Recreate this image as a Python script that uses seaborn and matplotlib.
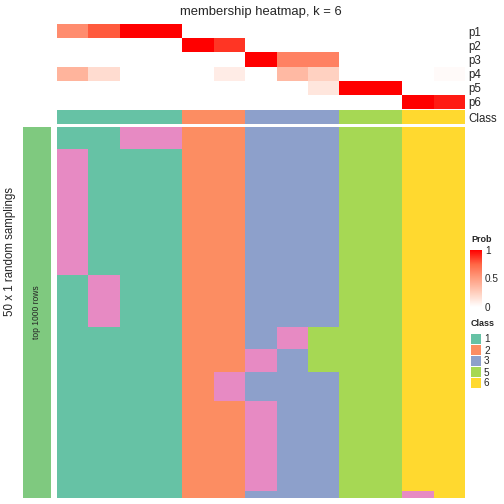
import numpy as np
import matplotlib
matplotlib.use("Agg")
import matplotlib.pyplot as plt
import seaborn as sns
from matplotlib.colors import ListedColormap, LinearSegmentedColormap

# ---- data ----
prob_rows = ["p1", "p2", "p3", "p4", "p5", "p6"]
p1 = [0.58, 0.78, 1.0, 1.0, 0, 0, 0, 0, 0, 0, 0, 0, 0]
p2 = [0, 0, 0, 0, 1.0, 0.87, 0, 0, 0, 0, 0, 0, 0]
p3 = [0, 0, 0, 0, 0, 0, 1.0, 0.63, 0.63, 0, 0, 0, 0]
p4 = [0.39, 0.18, 0, 0, 0, 0.1, 0, 0.36, 0.24, 0, 0, 0, 0.025]
p5 = [0, 0, 0, 0, 0, 0, 0, 0, 0.13, 1.0, 1.0, 0, 0]
p6 = [0, 0, 0, 0, 0, 0, 0, 0, 0, 0, 0, 1.0, 0.93]

class_per_sample = [1, 1, 1, 1, 2, 2, 3, 3, 3, 5, 5, 6, 6]
legend_classes = [1, 2, 3, 5, 6]

# 50 random samplings, one string per sampling (class of each sample)
samplings = (
    ["1144223335566"] * 3
    + ["4111223335566"] * 17
    + ["1411223335566"] * 7
    + ["1111223455566"] * 3
    + ["1111224355566"] * 3
    + ["1111243335566"] * 4
    + ["1111224335566"] * 12
    + ["1111223335546"] * 1
)

class_colors = ["#66C2A5", "#FC8D62", "#8DA0CB", "#E78AC3", "#A6D854", "#FFD92F"]

# ---- styling ----
sns.set_style("white")
plt.rcParams["font.family"] = ["Liberation Sans", "DejaVu Sans"]

W = H = 504.0


def box(x0, y0, x1, y1):
    # pixel box (top-left origin) -> figure fraction rect
    return [x0 / W, 1 - y1 / H, (x1 - x0) / W, (y1 - y0) / H]


class_cmap = ListedColormap(class_colors)
prob_cmap = LinearSegmentedColormap.from_list(
    "prob",
    [(0, "#FFFFFF"), (0.25, "#FFCFBE"), (0.5, "#FF9E81"), (0.75, "#FF6746"), (1, "#FF0000")],
)

fig = plt.figure(figsize=(7, 7), dpi=72)

# membership probabilities
ax_p = fig.add_axes(box(56.7, 24, 465, 109))
prob = np.array([p1, p2, p3, p4, p5, p6])
sns.heatmap(prob, ax=ax_p, cmap=prob_cmap, vmin=0, vmax=1, cbar=False,
            xticklabels=False, yticklabels=prob_rows)
ax_p.yaxis.tick_right()
ax_p.tick_params(axis="y", length=0, pad=3, labelsize=11.5, labelrotation=0)

# class annotation bar
ax_c = fig.add_axes(box(56.7, 110, 465, 124))
sns.heatmap(np.array([class_per_sample]), ax=ax_c, cmap=class_cmap, vmin=0.5, vmax=6.5,
            cbar=False, xticklabels=False, yticklabels=["Class"])
ax_c.yaxis.tick_right()
ax_c.tick_params(axis="y", length=0, pad=3, labelsize=11.5, labelrotation=0)

# main heatmap of samplings
ax_m = fig.add_axes(box(56.7, 126.7, 465, 498))
mat = np.array([[int(c) for c in row] for row in samplings])
sns.heatmap(mat, ax=ax_m, cmap=class_cmap, vmin=0.5, vmax=6.5, cbar=False,
            xticklabels=False, yticklabels=False)

# left row-group bar
ax_l = fig.add_axes(box(22.7, 126.7, 51, 498))
ax_l.set_facecolor("#7FC97F")
ax_l.set_xticks([])
ax_l.set_yticks([])
for s in ax_l.spines.values():
    s.set_visible(False)
ax_l.text(0.5, 0.5, "top 1000 rows", rotation=90, ha="center", va="center",
          fontsize=8.5, transform=ax_l.transAxes)

fig.text(10 / W, 1 - 252 / H, "50 x 1 random samplings", rotation=90,
         ha="center", va="center", fontsize=11.5)
fig.text(260.8 / W, 1 - 12 / H, "membership heatmap, k = 6",
         ha="center", va="center", fontsize=13)

# Prob colorbar
fig.text(471 / W, 1 - 240 / H, "Prob", ha="left", va="center", fontsize=9, fontweight="bold")
cax = fig.add_axes(box(470, 250, 482, 307))
sm = plt.cm.ScalarMappable(cmap=prob_cmap, norm=plt.Normalize(0, 1))
cb = fig.colorbar(sm, cax=cax, ticks=[0, 0.5, 1])
cb.outline.set_visible(False)
cb.ax.set_yticklabels(["0", "0.5", "1"])
cb.ax.tick_params(direction="in", length=2, color="white", labelsize=10, pad=3)

# Class legend
fig.text(471 / W, 1 - 324 / H, "Class", ha="left", va="center", fontsize=9, fontweight="bold")
ax_lg = fig.add_axes(box(470, 333, 481, 388))
sns.heatmap(np.array(legend_classes).reshape(-1, 1), ax=ax_lg, cmap=class_cmap,
            vmin=0.5, vmax=6.5, cbar=False, linewidths=1, linecolor="white",
            xticklabels=False, yticklabels=[str(c) for c in legend_classes])
ax_lg.yaxis.tick_right()
ax_lg.tick_params(axis="y", length=0, pad=3, labelsize=10, labelrotation=0)

fig.savefig("out.png", dpi=72)
